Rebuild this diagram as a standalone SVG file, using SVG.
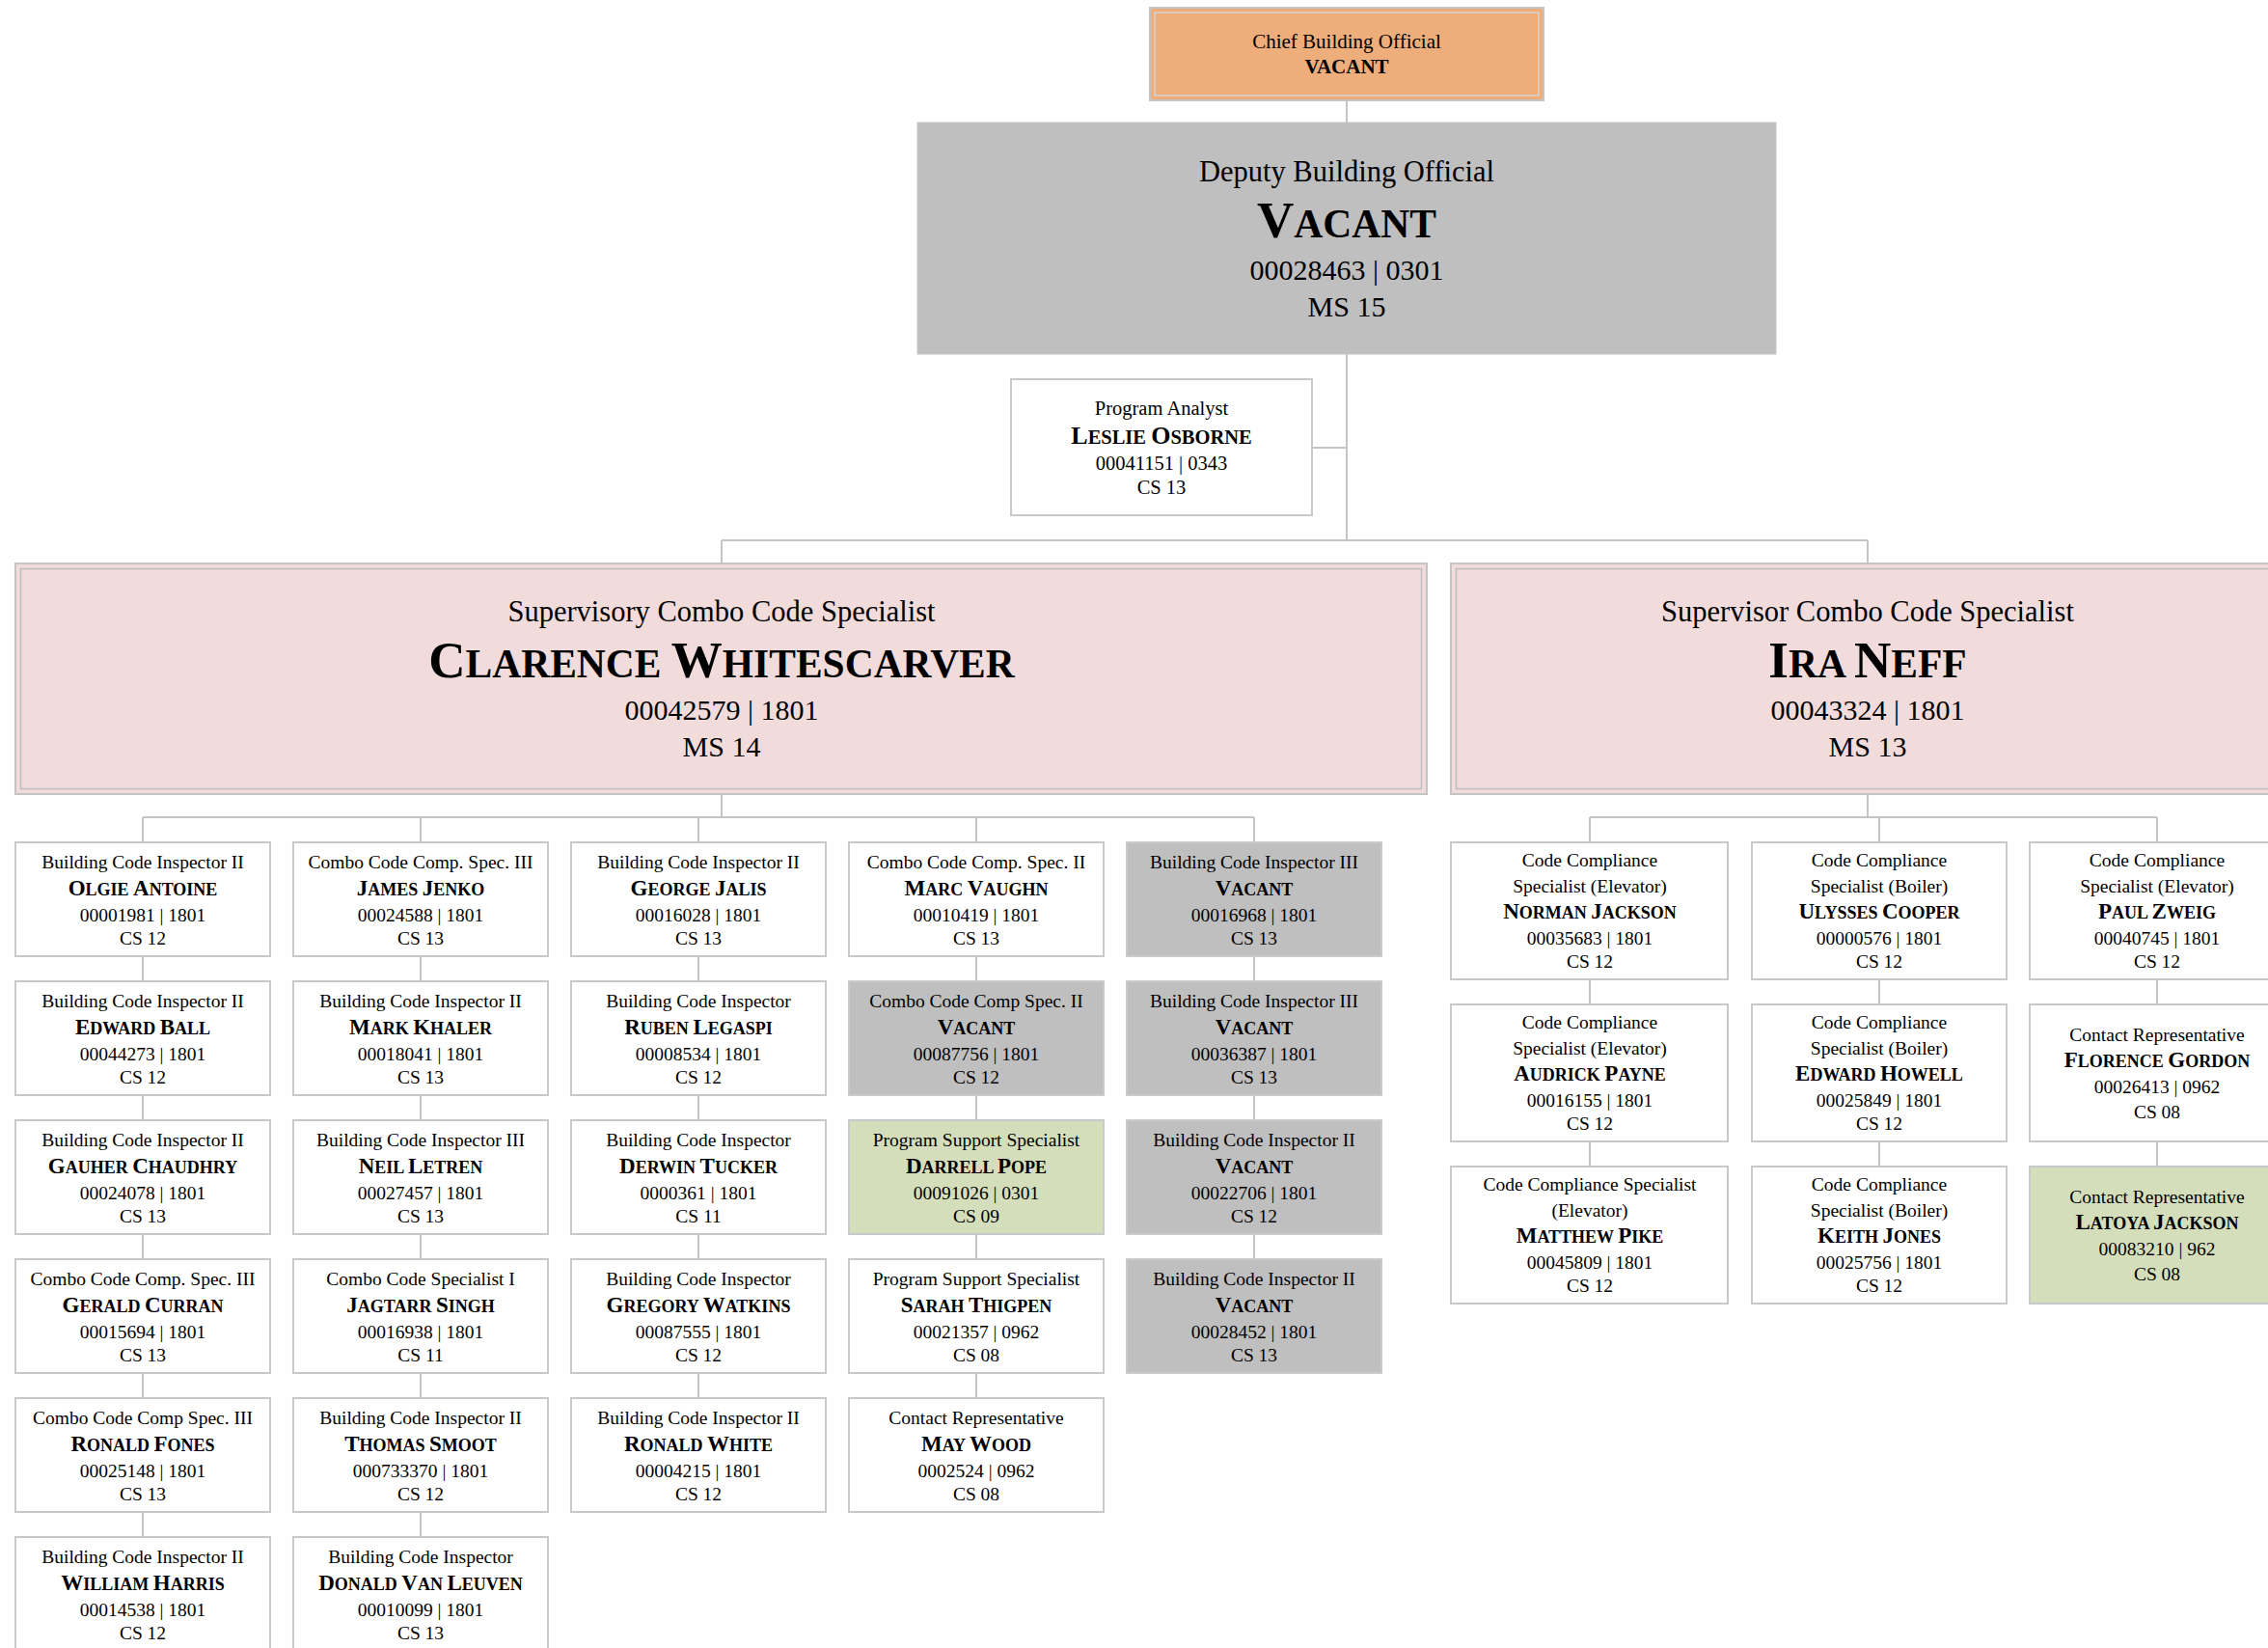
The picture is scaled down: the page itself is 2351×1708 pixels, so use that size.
<svg xmlns="http://www.w3.org/2000/svg" width="2351" height="1708" viewBox="0 0 2351 1708">
<style>
text{font-family:"Liberation Serif","Times New Roman",serif;text-anchor:middle;fill:#000}
.lt{font-size:19.5px}
.ln{font-size:18px;font-weight:bold}
.ln .B{font-size:23px}
.st{font-size:30.5px}
.sn{font-size:41.5px;font-weight:bold}
.sn .B{font-size:53px}
.si{font-size:30px}
.pt{font-size:20.5px}
.pn{font-size:20.5px;font-weight:bold}
.pn .B{font-size:26px}
.ct{font-size:21px}
.cn{font-size:21px;font-weight:bold}
.box{fill:#fff;stroke:#C8C8C8;stroke-width:2}
.vac{fill:#BFBFBF;stroke:#CBCBCB;stroke-width:2}
.grn{fill:#D5DEBA;stroke:#C8C8C8;stroke-width:2}
.sup{fill:#F2DCDB;stroke:#C4C4C4;stroke-width:2}
.inner{fill:none;stroke:#BDBDBD;stroke-width:1.5}
.conn path{stroke:#C4C4C4;stroke-width:2;fill:none}
</style>
<rect width="2351" height="1708" fill="#fff"/>
<g class="conn">
<path d="M1396,104V127M1396,367V560M1360,464H1396M748,560H1936M748,560V584M1936,560V584"/>
<path d="M748,824V847M148,847H1300M148,847V872M436,847V872M724,847V872M1012,847V872M1300,847V872"/>
<path d="M148,992V1016M148,1136V1160M148,1280V1304M148,1424V1448M148,1568V1592"/>
<path d="M436,992V1016M436,1136V1160M436,1280V1304M436,1424V1448M436,1568V1592"/>
<path d="M724,992V1016M724,1136V1160M724,1280V1304M724,1424V1448"/>
<path d="M1012,992V1016M1012,1136V1160M1012,1280V1304M1012,1424V1448"/>
<path d="M1300,992V1016M1300,1136V1160M1300,1280V1304"/>
<path d="M1936,824V847M1648,847H2236M1648,847V872M1948,847V872M2236,847V872"/>
<path d="M1648,1016V1040M1648,1184V1208M1948,1016V1040M1948,1184V1208M2236,1016V1040M2236,1184V1208"/>
</g>

<g id="chief">
<rect x="1192" y="8" width="408" height="96" fill="#EEAE7B" stroke="#C4C4C4" stroke-width="2"/>
<rect x="1197" y="13" width="398" height="86" fill="none" stroke="#D9D4D0" stroke-width="1.5"/>
<text class="ct" x="1396" y="50">Chief Building Official</text>
<text class="cn" x="1396" y="76">VACANT</text>
</g>

<g id="deputy">
<rect x="951" y="127" width="890" height="240" fill="#BFBFBF" stroke="#C6C6C6" stroke-width="1"/>
<text class="st" x="1396" y="188">Deputy Building Official</text>
<text class="sn" x="1396" y="246"><tspan class="B">V</tspan>ACANT</text>
<text class="si" x="1396" y="290">00028463 | 0301</text>
<text class="si" x="1396" y="328">MS 15</text>
</g>

<g id="program-analyst">
<rect class="box" x="1048" y="393" width="312" height="141"/>
<text class="pt" x="1204" y="430">Program Analyst</text>
<text class="pn" x="1204" y="460"><tspan class="B">L</tspan>ESLIE <tspan class="B">O</tspan>SBORNE</text>
<text class="pt" x="1204" y="487">00041151 | 0343</text>
<text class="pt" x="1204" y="512">CS 13</text>
</g>

<g id="clarence">
<rect class="sup" x="16" y="584" width="1463" height="239"/>
<rect class="inner" x="21.5" y="589.5" width="1452" height="228"/>
<text class="st" x="748" y="644">Supervisory Combo Code Specialist</text>
<text class="sn" x="748" y="702"><tspan class="B">C</tspan>LARENCE <tspan class="B">W</tspan>HITESCARVER</text>
<text class="si" x="748" y="746">00042579 | 1801</text>
<text class="si" x="748" y="784">MS 14</text>
</g>

<g id="ira">
<rect class="sup" x="1504" y="584" width="864" height="239"/>
<rect class="inner" x="1509.5" y="589.5" width="853" height="228"/>
<text class="st" x="1936" y="644">Supervisor Combo Code Specialist</text>
<text class="sn" x="1936" y="702"><tspan class="B">I</tspan>RA <tspan class="B">N</tspan>EFF</text>
<text class="si" x="1936" y="746">00043324 | 1801</text>
<text class="si" x="1936" y="784">MS 13</text>
</g>

<!-- Clarence column 1 -->
<g id="olgie-antoine" transform="translate(15,872)">
<rect class="box" x="1" y="1" width="264" height="118"/>
<text class="lt" x="133" y="27.5">Building Code Inspector II</text>
<text class="ln" x="133" y="56"><tspan class="B">O</tspan>LGIE <tspan class="B">A</tspan>NTOINE</text>
<text class="lt" x="133" y="82.5">00001981 | 1801</text>
<text class="lt" x="133" y="107">CS 12</text>
</g>
<g id="edward-ball" transform="translate(15,1016)">
<rect class="box" x="1" y="1" width="264" height="118"/>
<text class="lt" x="133" y="27.5">Building Code Inspector II</text>
<text class="ln" x="133" y="56"><tspan class="B">E</tspan>DWARD <tspan class="B">B</tspan>ALL</text>
<text class="lt" x="133" y="82.5">00044273 | 1801</text>
<text class="lt" x="133" y="107">CS 12</text>
</g>
<g id="gauher-chaudhry" transform="translate(15,1160)">
<rect class="box" x="1" y="1" width="264" height="118"/>
<text class="lt" x="133" y="27.5">Building Code Inspector II</text>
<text class="ln" x="133" y="56"><tspan class="B">G</tspan>AUHER <tspan class="B">C</tspan>HAUDHRY</text>
<text class="lt" x="133" y="82.5">00024078 | 1801</text>
<text class="lt" x="133" y="107">CS 13</text>
</g>
<g id="gerald-curran" transform="translate(15,1304)">
<rect class="box" x="1" y="1" width="264" height="118"/>
<text class="lt" x="133" y="27.5">Combo Code Comp. Spec. III</text>
<text class="ln" x="133" y="56"><tspan class="B">G</tspan>ERALD <tspan class="B">C</tspan>URRAN</text>
<text class="lt" x="133" y="82.5">00015694 | 1801</text>
<text class="lt" x="133" y="107">CS 13</text>
</g>
<g id="ronald-fones" transform="translate(15,1448)">
<rect class="box" x="1" y="1" width="264" height="118"/>
<text class="lt" x="133" y="27.5">Combo Code Comp Spec. III</text>
<text class="ln" x="133" y="56"><tspan class="B">R</tspan>ONALD <tspan class="B">F</tspan>ONES</text>
<text class="lt" x="133" y="82.5">00025148 | 1801</text>
<text class="lt" x="133" y="107">CS 13</text>
</g>
<g id="william-harris" transform="translate(15,1592)">
<rect class="box" x="1" y="1" width="264" height="118"/>
<text class="lt" x="133" y="27.5">Building Code Inspector II</text>
<text class="ln" x="133" y="56"><tspan class="B">W</tspan>ILLIAM <tspan class="B">H</tspan>ARRIS</text>
<text class="lt" x="133" y="82.5">00014538 | 1801</text>
<text class="lt" x="133" y="107">CS 12</text>
</g>

<!-- Clarence column 2 -->
<g id="james-jenko" transform="translate(303,872)">
<rect class="box" x="1" y="1" width="264" height="118"/>
<text class="lt" x="133" y="27.5">Combo Code Comp. Spec. III</text>
<text class="ln" x="133" y="56"><tspan class="B">J</tspan>AMES <tspan class="B">J</tspan>ENKO</text>
<text class="lt" x="133" y="82.5">00024588 | 1801</text>
<text class="lt" x="133" y="107">CS 13</text>
</g>
<g id="mark-khaler" transform="translate(303,1016)">
<rect class="box" x="1" y="1" width="264" height="118"/>
<text class="lt" x="133" y="27.5">Building Code Inspector II</text>
<text class="ln" x="133" y="56"><tspan class="B">M</tspan>ARK <tspan class="B">K</tspan>HALER</text>
<text class="lt" x="133" y="82.5">00018041 | 1801</text>
<text class="lt" x="133" y="107">CS 13</text>
</g>
<g id="neil-letren" transform="translate(303,1160)">
<rect class="box" x="1" y="1" width="264" height="118"/>
<text class="lt" x="133" y="27.5">Building Code Inspector III</text>
<text class="ln" x="133" y="56"><tspan class="B">N</tspan>EIL <tspan class="B">L</tspan>ETREN</text>
<text class="lt" x="133" y="82.5">00027457 | 1801</text>
<text class="lt" x="133" y="107">CS 13</text>
</g>
<g id="jagtarr-singh" transform="translate(303,1304)">
<rect class="box" x="1" y="1" width="264" height="118"/>
<text class="lt" x="133" y="27.5">Combo Code Specialist I</text>
<text class="ln" x="133" y="56"><tspan class="B">J</tspan>AGTARR <tspan class="B">S</tspan>INGH</text>
<text class="lt" x="133" y="82.5">00016938 | 1801</text>
<text class="lt" x="133" y="107">CS 11</text>
</g>
<g id="thomas-smoot" transform="translate(303,1448)">
<rect class="box" x="1" y="1" width="264" height="118"/>
<text class="lt" x="133" y="27.5">Building Code Inspector II</text>
<text class="ln" x="133" y="56"><tspan class="B">T</tspan>HOMAS <tspan class="B">S</tspan>MOOT</text>
<text class="lt" x="133" y="82.5">000733370 | 1801</text>
<text class="lt" x="133" y="107">CS 12</text>
</g>
<g id="donald-van-leuven" transform="translate(303,1592)">
<rect class="box" x="1" y="1" width="264" height="118"/>
<text class="lt" x="133" y="27.5">Building Code Inspector</text>
<text class="ln" x="133" y="56"><tspan class="B">D</tspan>ONALD <tspan class="B">V</tspan>AN <tspan class="B">L</tspan>EUVEN</text>
<text class="lt" x="133" y="82.5">00010099 | 1801</text>
<text class="lt" x="133" y="107">CS 13</text>
</g>

<!-- Clarence column 3 -->
<g id="george-jalis" transform="translate(591,872)">
<rect class="box" x="1" y="1" width="264" height="118"/>
<text class="lt" x="133" y="27.5">Building Code Inspector II</text>
<text class="ln" x="133" y="56"><tspan class="B">G</tspan>EORGE <tspan class="B">J</tspan>ALIS</text>
<text class="lt" x="133" y="82.5">00016028 | 1801</text>
<text class="lt" x="133" y="107">CS 13</text>
</g>
<g id="ruben-legaspi" transform="translate(591,1016)">
<rect class="box" x="1" y="1" width="264" height="118"/>
<text class="lt" x="133" y="27.5">Building Code Inspector</text>
<text class="ln" x="133" y="56"><tspan class="B">R</tspan>UBEN <tspan class="B">L</tspan>EGASPI</text>
<text class="lt" x="133" y="82.5">00008534 | 1801</text>
<text class="lt" x="133" y="107">CS 12</text>
</g>
<g id="derwin-tucker" transform="translate(591,1160)">
<rect class="box" x="1" y="1" width="264" height="118"/>
<text class="lt" x="133" y="27.5">Building Code Inspector</text>
<text class="ln" x="133" y="56"><tspan class="B">D</tspan>ERWIN <tspan class="B">T</tspan>UCKER</text>
<text class="lt" x="133" y="82.5">0000361 | 1801</text>
<text class="lt" x="133" y="107">CS 11</text>
</g>
<g id="gregory-watkins" transform="translate(591,1304)">
<rect class="box" x="1" y="1" width="264" height="118"/>
<text class="lt" x="133" y="27.5">Building Code Inspector</text>
<text class="ln" x="133" y="56"><tspan class="B">G</tspan>REGORY <tspan class="B">W</tspan>ATKINS</text>
<text class="lt" x="133" y="82.5">00087555 | 1801</text>
<text class="lt" x="133" y="107">CS 12</text>
</g>
<g id="ronald-white" transform="translate(591,1448)">
<rect class="box" x="1" y="1" width="264" height="118"/>
<text class="lt" x="133" y="27.5">Building Code Inspector II</text>
<text class="ln" x="133" y="56"><tspan class="B">R</tspan>ONALD <tspan class="B">W</tspan>HITE</text>
<text class="lt" x="133" y="82.5">00004215 | 1801</text>
<text class="lt" x="133" y="107">CS 12</text>
</g>

<!-- Clarence column 4 -->
<g id="marc-vaughn" transform="translate(879,872)">
<rect class="box" x="1" y="1" width="264" height="118"/>
<text class="lt" x="133" y="27.5">Combo Code Comp. Spec. II</text>
<text class="ln" x="133" y="56"><tspan class="B">M</tspan>ARC <tspan class="B">V</tspan>AUGHN</text>
<text class="lt" x="133" y="82.5">00010419 | 1801</text>
<text class="lt" x="133" y="107">CS 13</text>
</g>
<g id="vacant-00087756" transform="translate(879,1016)">
<rect class="vac" x="1" y="1" width="264" height="118"/>
<text class="lt" x="133" y="27.5">Combo Code Comp Spec. II</text>
<text class="ln" x="133" y="56"><tspan class="B">V</tspan>ACANT</text>
<text class="lt" x="133" y="82.5">00087756 | 1801</text>
<text class="lt" x="133" y="107">CS 12</text>
</g>
<g id="darrell-pope" transform="translate(879,1160)">
<rect class="grn" x="1" y="1" width="264" height="118"/>
<text class="lt" x="133" y="27.5">Program Support Specialist</text>
<text class="ln" x="133" y="56"><tspan class="B">D</tspan>ARRELL <tspan class="B">P</tspan>OPE</text>
<text class="lt" x="133" y="82.5">00091026 | 0301</text>
<text class="lt" x="133" y="107">CS 09</text>
</g>
<g id="sarah-thigpen" transform="translate(879,1304)">
<rect class="box" x="1" y="1" width="264" height="118"/>
<text class="lt" x="133" y="27.5">Program Support Specialist</text>
<text class="ln" x="133" y="56"><tspan class="B">S</tspan>ARAH <tspan class="B">T</tspan>HIGPEN</text>
<text class="lt" x="133" y="82.5">00021357 | 0962</text>
<text class="lt" x="133" y="107">CS 08</text>
</g>
<g id="may-wood" transform="translate(879,1448)">
<rect class="box" x="1" y="1" width="264" height="118"/>
<text class="lt" x="133" y="27.5">Contact Representative</text>
<text class="ln" x="133" y="56"><tspan class="B">M</tspan>AY <tspan class="B">W</tspan>OOD</text>
<text class="lt" x="133" y="82.5">0002524 | 0962</text>
<text class="lt" x="133" y="107">CS 08</text>
</g>

<!-- Clarence column 5 -->
<g id="vacant-00016968" transform="translate(1167,872)">
<rect class="vac" x="1" y="1" width="264" height="118"/>
<text class="lt" x="133" y="27.5">Building Code Inspector III</text>
<text class="ln" x="133" y="56"><tspan class="B">V</tspan>ACANT</text>
<text class="lt" x="133" y="82.5">00016968 | 1801</text>
<text class="lt" x="133" y="107">CS 13</text>
</g>
<g id="vacant-00036387" transform="translate(1167,1016)">
<rect class="vac" x="1" y="1" width="264" height="118"/>
<text class="lt" x="133" y="27.5">Building Code Inspector III</text>
<text class="ln" x="133" y="56"><tspan class="B">V</tspan>ACANT</text>
<text class="lt" x="133" y="82.5">00036387 | 1801</text>
<text class="lt" x="133" y="107">CS 13</text>
</g>
<g id="vacant-00022706" transform="translate(1167,1160)">
<rect class="vac" x="1" y="1" width="264" height="118"/>
<text class="lt" x="133" y="27.5">Building Code Inspector II</text>
<text class="ln" x="133" y="56"><tspan class="B">V</tspan>ACANT</text>
<text class="lt" x="133" y="82.5">00022706 | 1801</text>
<text class="lt" x="133" y="107">CS 12</text>
</g>
<g id="vacant-00028452" transform="translate(1167,1304)">
<rect class="vac" x="1" y="1" width="264" height="118"/>
<text class="lt" x="133" y="27.5">Building Code Inspector II</text>
<text class="ln" x="133" y="56"><tspan class="B">V</tspan>ACANT</text>
<text class="lt" x="133" y="82.5">00028452 | 1801</text>
<text class="lt" x="133" y="107">CS 13</text>
</g>

<!-- Ira column 1 -->
<g id="norman-jackson" transform="translate(1503,872)">
<rect class="box" x="1" y="1" width="287" height="142"/>
<text class="lt" x="145" y="25.5">Code Compliance</text>
<text class="lt" x="145" y="52.5">Specialist (Elevator)</text>
<text class="ln" x="145" y="80"><tspan class="B">N</tspan>ORMAN <tspan class="B">J</tspan>ACKSON</text>
<text class="lt" x="145" y="107">00035683 | 1801</text>
<text class="lt" x="145" y="131">CS 12</text>
</g>
<g id="audrick-payne" transform="translate(1503,1040)">
<rect class="box" x="1" y="1" width="287" height="142"/>
<text class="lt" x="145" y="25.5">Code Compliance</text>
<text class="lt" x="145" y="52.5">Specialist (Elevator)</text>
<text class="ln" x="145" y="80"><tspan class="B">A</tspan>UDRICK <tspan class="B">P</tspan>AYNE</text>
<text class="lt" x="145" y="107">00016155 | 1801</text>
<text class="lt" x="145" y="131">CS 12</text>
</g>
<g id="matthew-pike" transform="translate(1503,1208)">
<rect class="box" x="1" y="1" width="287" height="142"/>
<text class="lt" x="145" y="25.5">Code Compliance Specialist</text>
<text class="lt" x="145" y="52.5">(Elevator)</text>
<text class="ln" x="145" y="80"><tspan class="B">M</tspan>ATTHEW <tspan class="B">P</tspan>IKE</text>
<text class="lt" x="145" y="107">00045809 | 1801</text>
<text class="lt" x="145" y="131">CS 12</text>
</g>

<!-- Ira column 2 -->
<g id="ulysses-cooper" transform="translate(1815,872)">
<rect class="box" x="1" y="1" width="264" height="142"/>
<text class="lt" x="133" y="25.5">Code Compliance</text>
<text class="lt" x="133" y="52.5">Specialist (Boiler)</text>
<text class="ln" x="133" y="80"><tspan class="B">U</tspan>LYSSES <tspan class="B">C</tspan>OOPER</text>
<text class="lt" x="133" y="107">00000576 | 1801</text>
<text class="lt" x="133" y="131">CS 12</text>
</g>
<g id="edward-howell" transform="translate(1815,1040)">
<rect class="box" x="1" y="1" width="264" height="142"/>
<text class="lt" x="133" y="25.5">Code Compliance</text>
<text class="lt" x="133" y="52.5">Specialist (Boiler)</text>
<text class="ln" x="133" y="80"><tspan class="B">E</tspan>DWARD <tspan class="B">H</tspan>OWELL</text>
<text class="lt" x="133" y="107">00025849 | 1801</text>
<text class="lt" x="133" y="131">CS 12</text>
</g>
<g id="keith-jones" transform="translate(1815,1208)">
<rect class="box" x="1" y="1" width="264" height="142"/>
<text class="lt" x="133" y="25.5">Code Compliance</text>
<text class="lt" x="133" y="52.5">Specialist (Boiler)</text>
<text class="ln" x="133" y="80"><tspan class="B">K</tspan>EITH <tspan class="B">J</tspan>ONES</text>
<text class="lt" x="133" y="107">00025756 | 1801</text>
<text class="lt" x="133" y="131">CS 12</text>
</g>

<!-- Ira column 3 -->
<g id="paul-zweig" transform="translate(2103,872)">
<rect class="box" x="1" y="1" width="264" height="142"/>
<text class="lt" x="133" y="25.5">Code Compliance</text>
<text class="lt" x="133" y="52.5">Specialist (Elevator)</text>
<text class="ln" x="133" y="80"><tspan class="B">P</tspan>AUL <tspan class="B">Z</tspan>WEIG</text>
<text class="lt" x="133" y="107">00040745 | 1801</text>
<text class="lt" x="133" y="131">CS 12</text>
</g>
<g id="florence-gordon" transform="translate(2103,1040)">
<rect class="box" x="1" y="1" width="264" height="142"/>
<text class="lt" x="133" y="38.5">Contact Representative</text>
<text class="ln" x="133" y="66"><tspan class="B">F</tspan>LORENCE <tspan class="B">G</tspan>ORDON</text>
<text class="lt" x="133" y="93">00026413 | 0962</text>
<text class="lt" x="133" y="119">CS 08</text>
</g>
<g id="latoya-jackson" transform="translate(2103,1208)">
<rect class="grn" x="1" y="1" width="264" height="142"/>
<text class="lt" x="133" y="38.5">Contact Representative</text>
<text class="ln" x="133" y="66"><tspan class="B">L</tspan>ATOYA <tspan class="B">J</tspan>ACKSON</text>
<text class="lt" x="133" y="93">00083210 | 962</text>
<text class="lt" x="133" y="119">CS 08</text>
</g>
</svg>
